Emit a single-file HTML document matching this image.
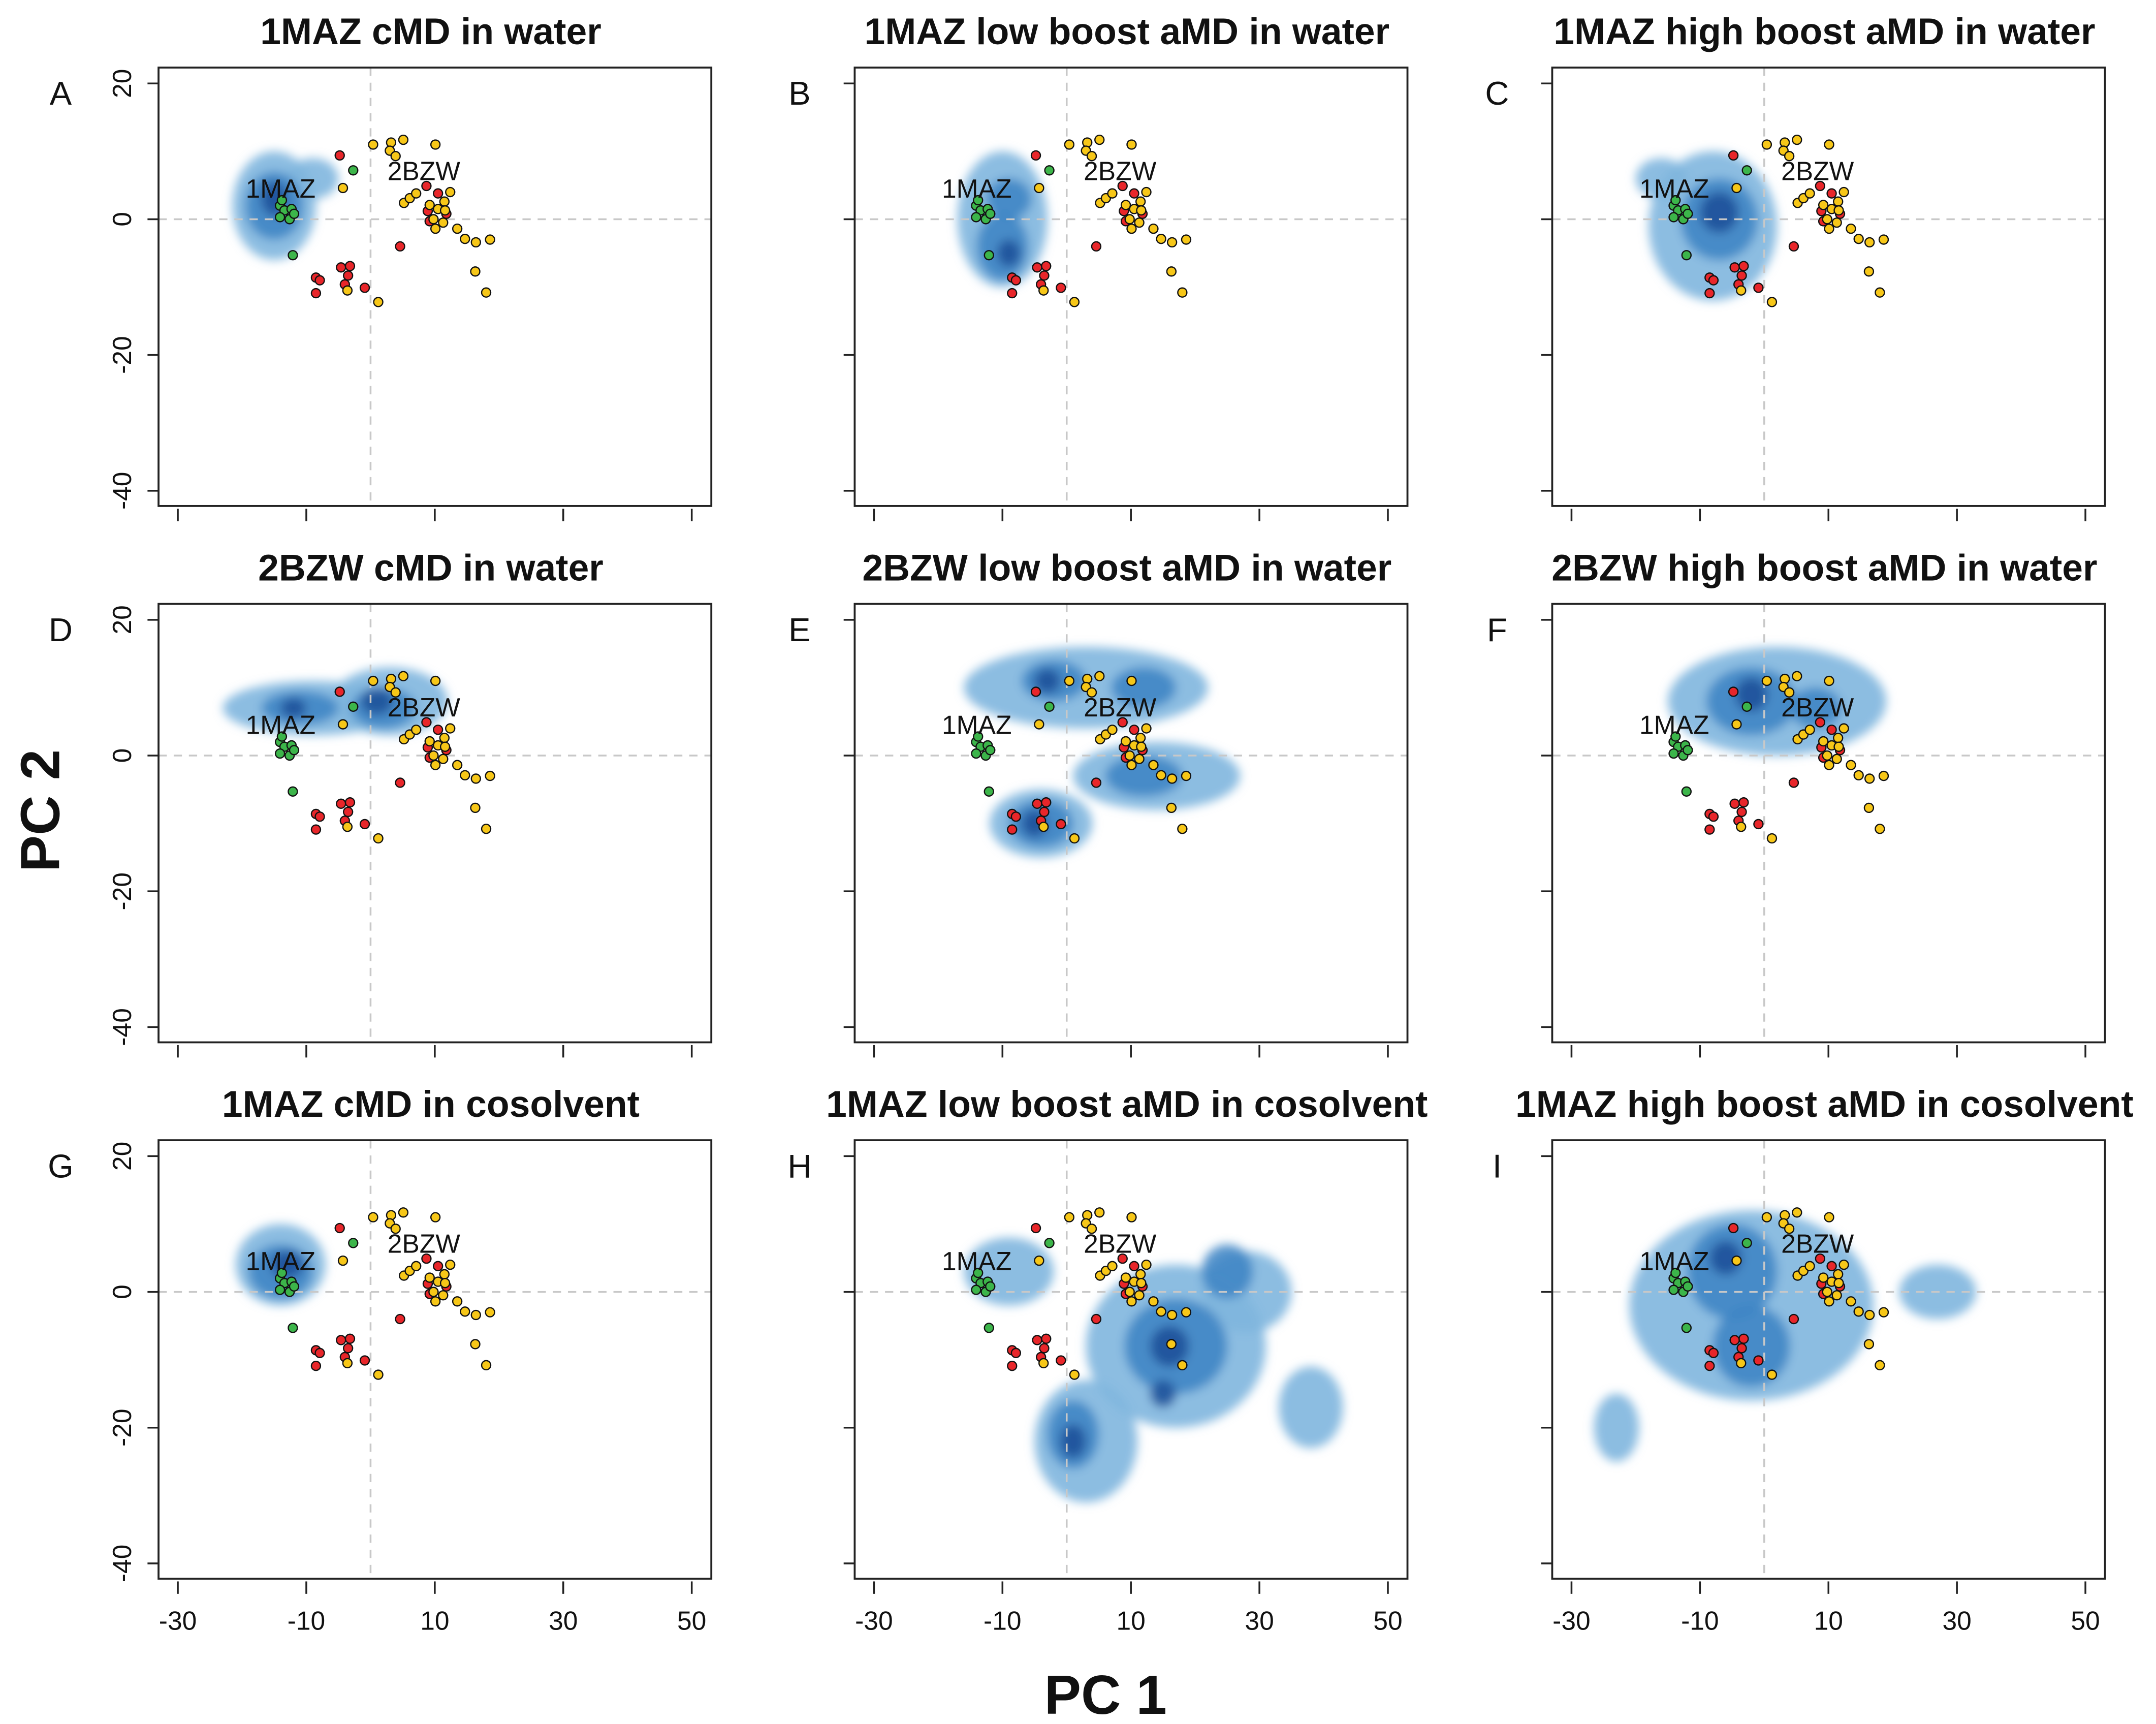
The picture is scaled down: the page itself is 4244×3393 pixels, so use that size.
<!DOCTYPE html>
<html><head><meta charset="utf-8"><style>
html,body{margin:0;padding:0;background:#fff}
svg{display:block}
text{font-family:"Liberation Sans",sans-serif}
</style></head><body>
<svg id="fig" width="4244" height="3393" viewBox="0 0 1564 1250.4" xmlns="http://www.w3.org/2000/svg">
<defs><filter id="blr" x="-30%" y="-30%" width="160%" height="160%"><feGaussianBlur stdDeviation="3.5"/></filter></defs>
</svg>
<script>
// ---- data ----
const panelTitles = ["1MAZ cMD in water","1MAZ low boost aMD in water","1MAZ high boost aMD in water",
 "2BZW cMD in water","2BZW low boost aMD in water","2BZW high boost aMD in water",
 "1MAZ cMD in cosolvent","1MAZ low boost aMD in cosolvent","1MAZ high boost aMD in cosolvent"];
const panelLetters = ["A","B","C","D","E","F","G","H","I"];
const xTicks = [-30,-10,10,30,50];
const yTicks = [20,0,-20,-40];
const yellowX = [0.4,3.2,5.1,10.1,3.0,3.9,-4.3,5.2,6.1,7.1,12.4,9.2,11.5,10.5,11.6,11.3,10.1,13.5,14.7,16.4,18.6,16.3,18.0,-3.6,1.2,9.8];
const yellowY = [11.0,11.3,11.7,11.0,10.1,9.3,4.6,2.4,3.1,3.8,4.0,2.1,2.6,1.5,1.3,-0.5,-1.4,-1.4,-2.9,-3.4,-3.0,-7.7,-10.8,-10.5,-12.2,0];
const redX = [-4.8,8.7,10.5,8.9,11.8,9.2,4.6,-4.6,-3.2,-3.5,-4.0,-8.5,-7.9,-8.5,-0.9];
const redY = [9.4,4.9,3.8,1.2,0.8,-0.3,-4.0,-7.1,-6.9,-8.3,-9.6,-8.6,-9.0,-10.9,-10.1];
const greenX = [-2.7,-12.1,-14.1,-13.4,-12.3,-14.1,-12.6,-11.9,-13.8];
const greenY = [7.2,-5.3,2.0,1.3,1.5,0.3,0,0.8,2.8];
// cloud density blobs per panel: [cx, cy, rx, ry, level]
const cloudA = [[-15,2,6.5,8,0],[-9,6,4,3,0],[-15,2,4.5,5,1],[-15,3,2,2.5,2]];
const cloudB = [[-10,0,7,10,0],[-10,-4,4,5,1],[-9,3,3.5,3,1],[-9,-5,1.8,2,2]];
const cloudC = [[-8,-1,10,11,0],[-16,6,4,3,0],[-7,0,6,6,1],[-7,1,3,3,2]];
const cloudD = [[-9,7,14,4,0],[3,8,9,5,0],[-11,7,6,2.5,1],[2,7,5,3,1],[1,8,2.5,2,2],[-12,7,2,1.5,2]];
const cloudE = [[3,10,19,6,0],[-4,-10,8,5,0],[14,-3,13,5,0],[-2,11,5,3,1],[12,10,5,3,1],[-4,-10,5,3.5,1],[12,-3,6,3,1],[-3,11,2,1.8,2],[-5,-10,2,2,2]];
const cloudF = [[2,8,17,8,0],[-2,8,7,5,1],[8,7,4,3,1],[-2,9,2.5,2.5,2]];
const cloudG = [[-14,4,7,6,0],[-14,3,5,4,1],[-13,4,2.5,2,2]];
const cloudH = [[-9,3,7,5,0],[17,-8,14,12,0],[3,-22,8,9,0],[28,0,7,6,0],[38,-17,5,6,0],[17,-8,8,7,1],[25,3,4,4,1],[1,-21,4,5,1],[16,-8,3,3,2],[15,-15,2,2,2],[1,-22,2,2.5,2]];
const cloudI = [[-2,-2,19,14,0],[27,0,6,4,0],[-23,-20,3.5,5,0],[-5,3,7,7,1],[-2,-8,6,6,1],[-6,5,2.5,2.5,2]];
const clouds = [cloudA,cloudB,cloudC,cloudD,cloudE,cloudF,cloudG,cloudH,cloudI];

// ---- layout ----
const NS="http://www.w3.org/2000/svg";
const svg=document.getElementById('fig');
const colLeft=[115,620,1126], rowTop=[49,438,827];
const BW=401, BH=318, XS=4.66;
const levelColor=["#80b6de","#3d84c4","#1a4f98"];
function mk(tag,attrs,parent){const e=document.createElementNS(NS,tag);for(const k in attrs)e.setAttribute(k,attrs[k]);(parent||svg).appendChild(e);return e;}

for(let p=0;p<9;p++){
  const r=Math.floor(p/3), c=p%3;
  const L=colLeft[c], T=rowTop[r];
  const sx=v=>L+14+(v+30)*XS;
  const sy=v=>T+110+(-v)*4.923;
  const g=mk('g',{});
  
  
  const cp=mk('clipPath',{id:'cp'+p},g);mk('rect',{x:L,y:T,width:BW,height:BH},cp);
  const cg=mk('g',{'clip-path':'url(#cp'+p+')'},g);
  
  
  const bg=mk('g',{filter:'url(#blr)'},cg);
  for(let lv=0;lv<3;lv++){
    clouds[p].filter(b=>b[4]===lv).forEach(b=>{
      const e=mk('ellipse',{cx:sx(b[0]),cy:sy(b[1]),rx:b[2]*XS,ry:b[3]*4.923,fill:levelColor[lv],opacity:lv===0?0.9:0.85},bg);
      
      
    });
  }
  const vl=mk('line',{x1:sx(0),x2:sx(0),y1:T,y2:T+BH,stroke:"#c8c8c8","stroke-width":1.3,"stroke-dasharray":"6,5"},g);
  
  
  const hl=mk('line',{x1:L,x2:L+BW,y1:sy(0),y2:sy(0),stroke:"#c8c8c8","stroke-width":1.3,"stroke-dasharray":"6,5"},g);
  
  
  const series=[[greenX,greenY,"#3cb54a","green-structure-point"],[redX,redY,"#e8262a","red-structure-point"],[yellowX,yellowY,"#f7c718","yellow-structure-point"]];
  series.forEach(s=>{s[0].forEach((xv,i)=>{
    const ci=mk('circle',{cx:sx(xv),cy:sy(s[1][i]),r:3.3,fill:s[2],stroke:"#111","stroke-width":0.9},g);
    
    
  });});
  const l1=mk('text',{x:sx(-14),y:sy(4.6)+7,'font-size':19,'text-anchor':'middle',fill:'#111'},g);l1.textContent="1MAZ";
  
  
  const l2=mk('text',{x:sx(8.3),y:sy(7.2)+7,'font-size':19,'text-anchor':'middle',fill:'#111'},g);l2.textContent="2BZW";
  
  
  const bx=mk('rect',{x:L,y:T,width:BW,height:BH,fill:'none',stroke:'#222','stroke-width':1.4},g);
  
  
  yTicks.forEach(t=>{
    const tl=mk('line',{x1:L-8,x2:L,y1:sy(t),y2:sy(t),stroke:'#222','stroke-width':1.3},g);
    
    
    if(c===0){
      const tx=mk('text',{x:0,y:0,'font-size':19,'text-anchor':'middle',fill:'#111',transform:`translate(${L-20},${sy(t)}) rotate(-90)`},g);
      tx.textContent=String(t);
      
      
    }
  });
  xTicks.forEach(t=>{
    const tl=mk('line',{x1:sx(t),x2:sx(t),y1:T+BH+2,y2:T+BH+11,stroke:'#222','stroke-width':1.3},g);
    
    
    if(r===2){
      const tx=mk('text',{x:sx(t),y:T+BH+37,'font-size':19,'text-anchor':'middle',fill:'#111'},g);
      tx.textContent=String(t);
      
      
    }
  });
  const ti=mk('text',{x:L+BW/2-3,y:T-17,'font-size':27,'font-weight':'bold','text-anchor':'middle',fill:'#111'},g);
  ti.textContent=panelTitles[p];
  
  
  const le=mk('text',{x:c===0?44:L-40,y:T+27,'font-size':24,'text-anchor':'middle',fill:'#111'},g);
  le.textContent=panelLetters[p];
  
  
}
const xt=mk('text',{x:802,y:1243,'font-size':40,'font-weight':'bold','text-anchor':'middle',fill:'#111'});
xt.textContent="PC 1";


const yt=mk('text',{x:0,y:0,'font-size':40,'font-weight':'bold','text-anchor':'middle',fill:'#111',transform:'translate(43,588) rotate(-90)'});
yt.textContent="PC 2";


</script>
</body></html>
